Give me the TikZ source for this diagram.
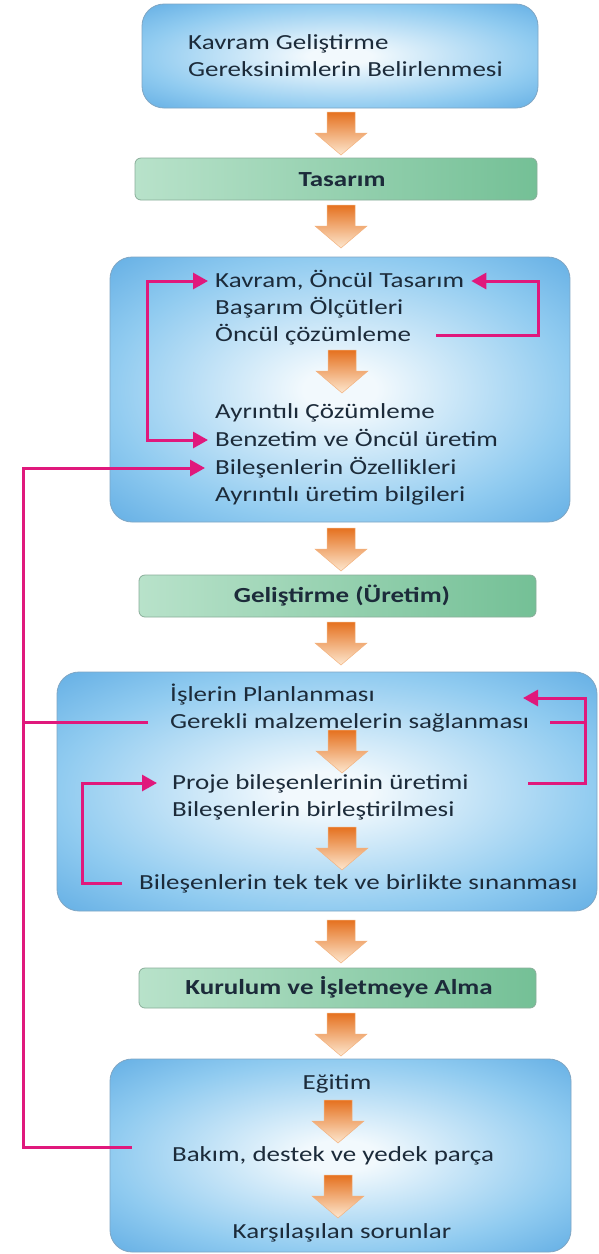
\documentclass[tikz,border=0pt]{standalone}
\usepackage{fontspec}
\setmainfont{Carlito}[FakeStretch=1.255]
\usetikzlibrary{arrows.meta}
\definecolor{glowin}{HTML}{F2F9FD}
\definecolor{glowmid}{HTML}{90CBF0}
\definecolor{glowout}{HTML}{63AEE4}
\definecolor{boxline}{HTML}{7FA6C4}
\definecolor{greenl}{HTML}{B8E2CA}
\definecolor{greenm}{HTML}{EAF6EF}
\definecolor{greenr}{HTML}{74C096}
\definecolor{greenline}{HTML}{8AAE9A}
\definecolor{pinkc}{HTML}{E0187C}
\definecolor{txtc}{HTML}{1C2B3A}
\definecolor{orgtop}{HTML}{E5711F}
\definecolor{orgmid}{HTML}{F09445}
\definecolor{orgbot}{HTML}{FDE7CF}
\definecolor{orgline}{HTML}{F3B27E}
\pgfdeclareradialshading{glow}{\pgfpoint{0bp}{0bp}}{color(0bp)=(glowin); color(4bp)=(glowin); color(25bp)=(glowmid); color(36bp)=(glowout); color(50bp)=(glowout)}
\begin{document}
\begin{tikzpicture}[x=1pt,y=-1pt,
  bluebox/.style={draw=boxline, line width=0.8pt, rounded corners=22pt, shading=glow, inner sep=0pt},
  greenbox/.style={draw=greenline, line width=0.8pt, rounded corners=6pt, left color=greenl, middle color=greenm, right color=greenr, inner sep=0pt},
  txt/.style={inner sep=0pt, text height=13.5pt, text depth=0pt, text=txtc, font=\fontsize{21.5}{25}\selectfont},
  btxt/.style={txt, font=\fontsize{21.5}{25}\selectfont\bfseries},
  pk/.style={draw=pinkc, line width=3pt},
  tip/.style={-{Triangle[length=15pt,width=16pt]}},
  tips/.style={{Triangle[length=15pt,width=16pt]}-{Triangle[length=15pt,width=16pt]}},
  arrowshade/.style={top color=orgtop, middle color=orgmid, bottom color=orgbot, draw=orgline, line width=0.5pt},
  barrow/.pic={\path[arrowshade] (-14,0) -- (14,0) -- (14,21) -- (26,21) -- (0,43) -- (-26,21) -- (-14,21) -- cycle;}
]
\fill[white] (0,0) rectangle (599,1254);
\useasboundingbox (0,0) rectangle (599,1254);

% boxes
\node[bluebox, minimum width=396pt, minimum height=104pt] (b1) at (340,56) {};
\node[greenbox, minimum width=402pt, minimum height=42pt] (g1) at (336,179) {};
\node[bluebox, minimum width=460pt, minimum height=265pt] (b3) at (340,389.5) {};
\node[greenbox, minimum width=397pt, minimum height=42pt] (g2) at (337.5,596) {};
\node[bluebox, minimum width=540pt, minimum height=239pt] (b5) at (327,791.5) {};
\node[greenbox, minimum width=397pt, minimum height=40pt] (g3) at (337.5,988) {};
\node[bluebox, minimum width=461pt, minimum height=193pt] (b7) at (340.5,1155.5) {};

% block arrows
\pic at (341,112) {barrow};
\pic at (341,205) {barrow};
\pic at (342,350) {barrow};
\pic at (341,528) {barrow};
\pic at (341,622) {barrow};
\pic at (342,730) {barrow};
\pic at (342,827) {barrow};
\pic at (341,920) {barrow};
\pic at (341,1013) {barrow};
\pic at (338,1100) {barrow};
\pic at (338,1175) {barrow};

% texts
\node[txt, anchor=west] (t11) at (188,43) {Kavram Geliştirme};
\node[txt, anchor=west] (t12) at (188,70) {Gereksinimlerin Belirlenmesi};
\node[btxt] (tg1) at (342,180) {Tasarım};

\node[txt, anchor=west] (t31) at (215,281) {Kavram, Öncül Tasarım};
\node[txt, anchor=west] (t32) at (215,308) {Başarım Ölçütleri};
\node[txt, anchor=west] (t33) at (215,335) {Öncül çözümleme};
\node[txt, anchor=west] (t34) at (215,412) {Ayrıntılı Çözümleme};
\node[txt, anchor=west] (t35) at (215,440) {Benzetim ve Öncül üretim};
\node[txt, anchor=west] (t36) at (215,468) {Bileşenlerin Özellikleri};
\node[txt, anchor=west] (t37) at (215,495) {Ayrıntılı üretim bilgileri};

\node[btxt] (tg2) at (342,596) {Geliştirme (Üretim)};

\node[txt, anchor=west] (t51) at (170,695) {İşlerin Planlanması};
\node[txt, anchor=west] (t52) at (170,722) {Gerekli malzemelerin sağlanması};
\node[txt, anchor=west] (t53) at (172,783) {Proje bileşenlerinin üretimi};
\node[txt, anchor=west] (t54) at (172,810) {Bileşenlerin birleştirilmesi};
\node[txt, anchor=west] (t55) at (139,883) {Bileşenlerin tek tek ve birlikte sınanması};

\node[btxt] (tg3) at (339,988) {Kurulum ve İşletmeye Alma};

\node[txt] (t71) at (337,1083) {Eğitim};
\node[txt] (t72) at (333,1155) {Bakım, destek ve yedek parça};
\node[txt] (t73) at (342,1232) {Karşılaşılan sorunlar};

% bracket positions
\coordinate (xL3) at (147,0);
\coordinate (xR3) at (538,0);
\coordinate (xLL) at (23,0);
\coordinate (xR5) at (585,0);
\coordinate (xL5) at (82,0);
\coordinate (p5a) at (528,783);
\coordinate (p5b) at (523,698);

% pink connectors
\draw[pk, tips] ([xshift=-7pt]t31.west) -- (t31.west -| xL3) -- (t35.west -| xL3) -- ([xshift=-7pt]t35.west);
\draw[pk, tip] ([xshift=25pt]t33.east) -- (t33.east -| xR3) -- (t31.east -| xR3) -- ([xshift=7pt]t31.east);
\draw[pk, tip] ([xshift=-40pt,yshift=8pt]t72.west) -- ([yshift=8pt]t72.west -| xLL) -- (t36.west -| xLL) -- ([xshift=-10pt]t36.west);
\draw[pk] ([xshift=-22pt]t52.west) -- (t52.west -| xLL);
\draw[pk, tip] (p5a) -- (p5a -| xR5) -- (p5b -| xR5) -- (p5b);
\draw[pk] ([xshift=21pt]t52.east) -- (t52.east -| xR5);
\draw[pk, tip] ([xshift=-17pt]t55.west) -- (t55.west -| xL5) -- (t53.west -| xL5) -- ([xshift=-15pt]t53.west);
\end{tikzpicture}
\end{document}
